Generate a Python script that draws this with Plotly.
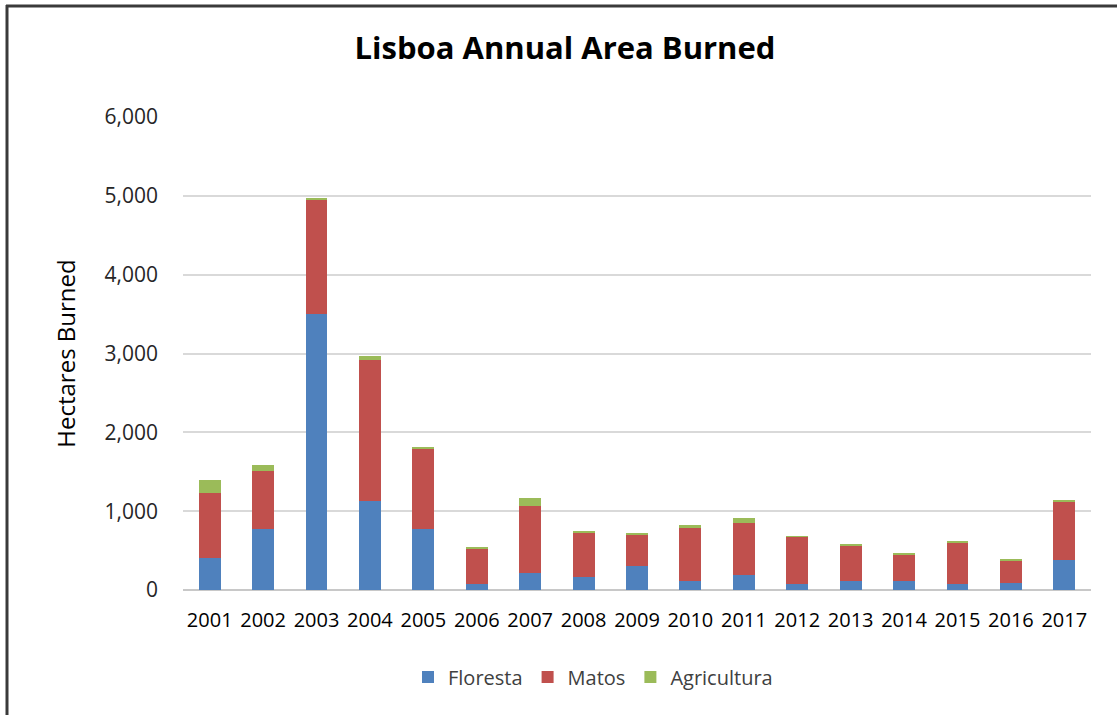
import plotly.graph_objects as go

years = [str(y) for y in range(2001, 2018)]
floresta = [400, 770, 3500, 1130, 770, 75, 210, 160, 310, 120, 190, 75, 120, 110, 70, 95, 380]
matos = [830, 745, 1455, 1790, 1020, 450, 850, 570, 400, 665, 660, 600, 450, 340, 530, 285, 745]
agricultura = [160, 75, 15, 50, 12, 10, 105, 10, 10, 45, 65, 10, 10, 8, 10, 10, 12]
y_ticks = [0, 1000, 2000, 3000, 4000, 5000, 6000]

W, H = 1117, 715
L, R, T, B = 183, 26, 117, 125
font = "Open Sans"

fig = go.Figure()
for name, vals, color in [
    ("Floresta", floresta, "#4f81bd"),
    ("Matos", matos, "#c0504d"),
    ("Agricultura", agricultura, "#9bbb59"),
]:
    fig.add_trace(go.Bar(x=years, y=vals, name=name, marker=dict(color=color, line=dict(width=0))))


def px_x(p):
    return (p - L) / (W - L - R)


def px_y(p):
    return (H - B - p) / (H - T - B)


fig.update_layout(
    width=W, height=H,
    margin=dict(l=L, r=R, t=T, b=B),
    barmode="stack",
    bargap=0.59,
    plot_bgcolor="white",
    paper_bgcolor="white",
    font=dict(family=font, color="#262626"),
    title=dict(text="<b>Lisboa Annual Area Burned</b>", x=px_x(565), xanchor="center", xref="paper",
               y=1 - 48 / H, yanchor="middle",
               font=dict(family=font, size=31, color="#000000")),
    xaxis=dict(showgrid=False, showline=False, ticks="", tickfont=dict(size=20, color="#000000"),
               zeroline=False, ticklabelstandoff=16),
    yaxis=dict(range=[0, 6000], tickvals=y_ticks, tickformat=",d", showgrid=True,
               gridcolor="#d9d9d9", gridwidth=1.5, zeroline=True, zerolinecolor="#c8c8c8",
               zerolinewidth=1.5, ticks="", ticklabelstandoff=24,
               tickfont=dict(size=21, color="#262626"),
               title=dict(text="Hectares Burned", font=dict(size=24, color="#000000"), standoff=22)),
    legend=dict(orientation="h", x=px_x(593), xanchor="center", y=px_y(677), yanchor="middle",
                font=dict(size=20, color="#404040"), traceorder="normal",
                itemwidth=30, tracegroupgap=0),
    shapes=[
        dict(type="line", xref="paper", yref="paper", x0=px_x(7), x1=px_x(7), y0=px_y(5), y1=px_y(H + 5),
             line=dict(color="#3a3a3a", width=3)),
        dict(type="line", xref="paper", yref="paper", x0=px_x(6), x1=px_x(W + 5), y0=px_y(6), y1=px_y(6),
             line=dict(color="#3a3a3a", width=3)),
    ],
)

fig.write_html("out.html")
